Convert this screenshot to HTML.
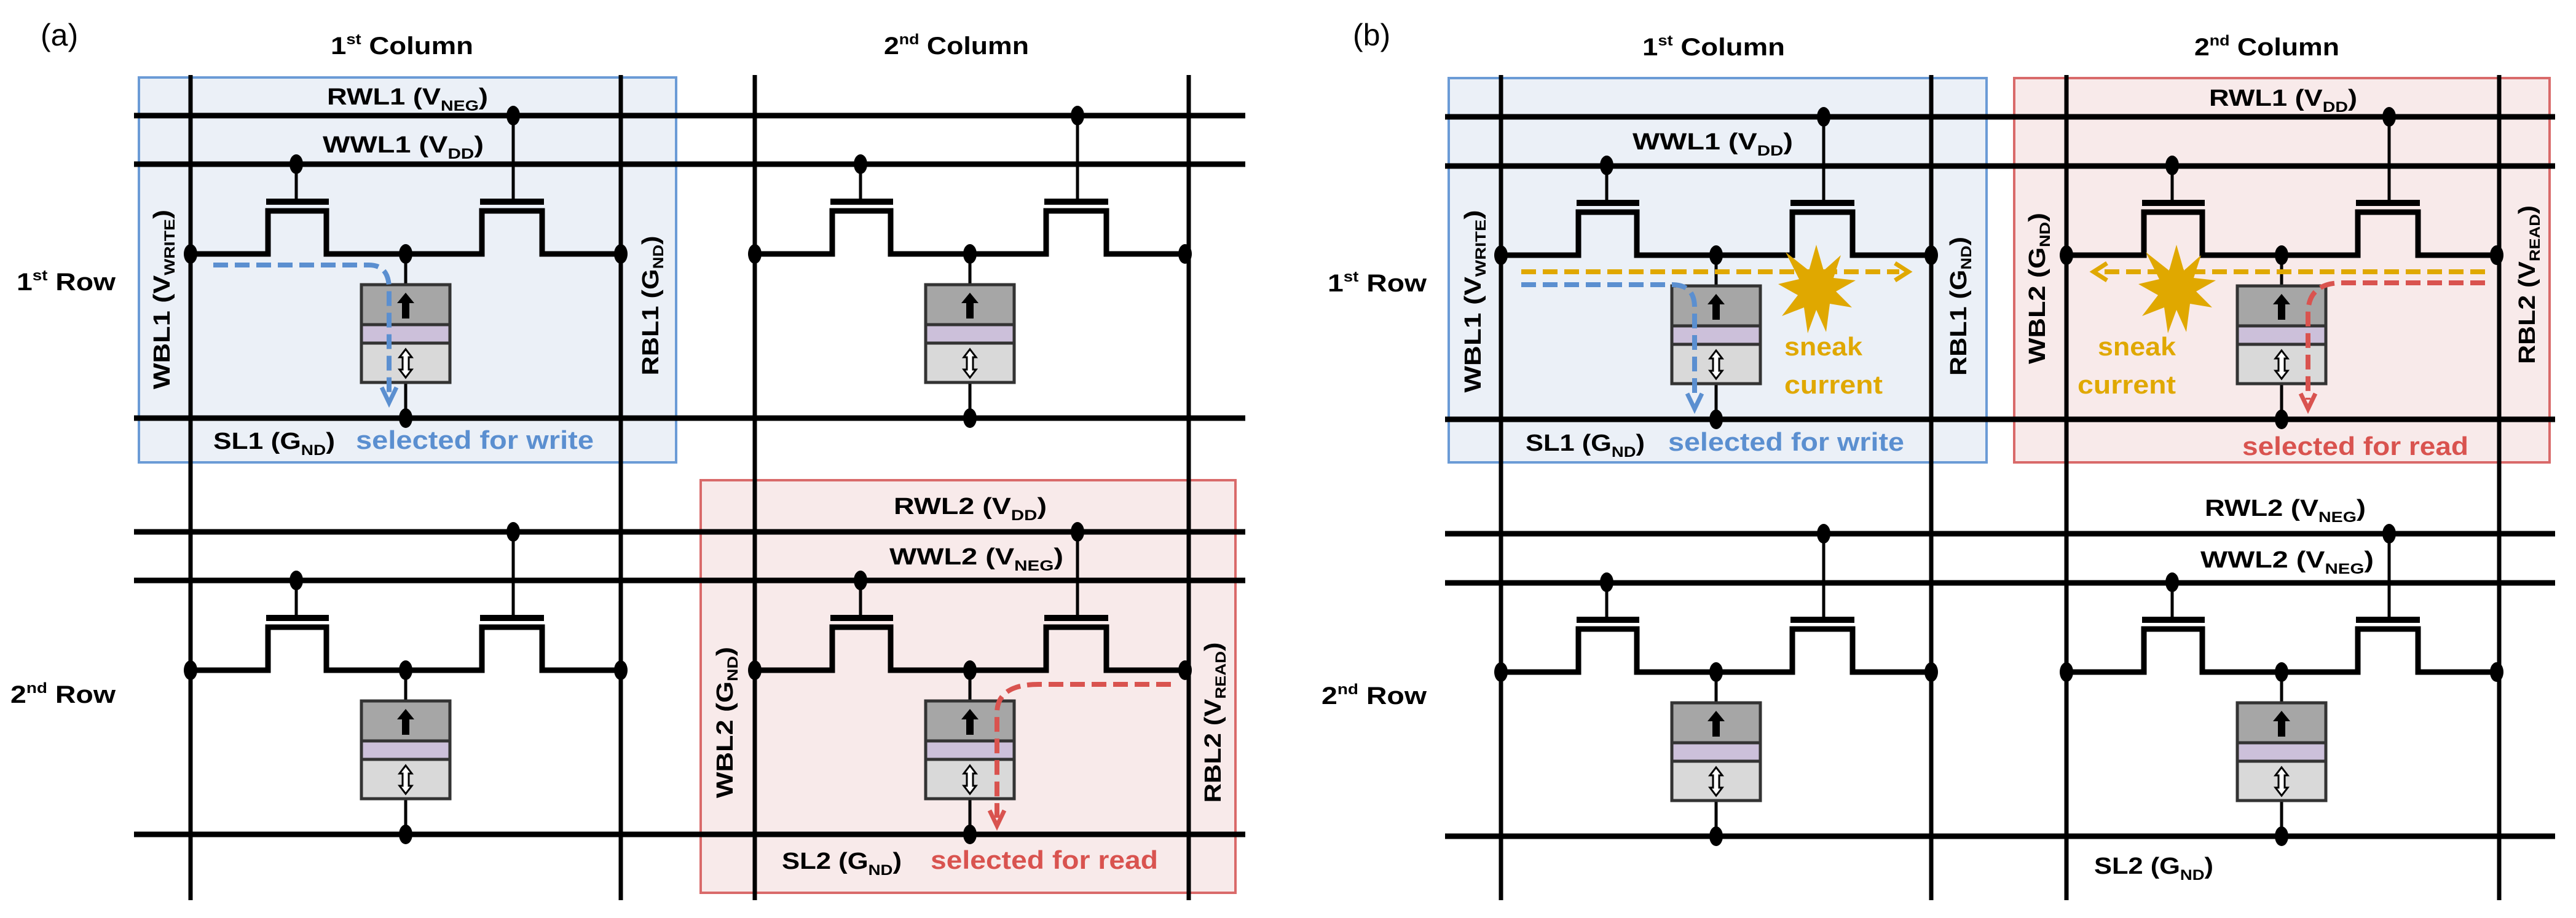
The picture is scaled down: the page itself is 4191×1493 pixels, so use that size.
<!DOCTYPE html>
<html><head><meta charset="utf-8"><style>
html,body{margin:0;padding:0;background:#fff;}
svg{display:block;}
text{font-family:"Liberation Sans",sans-serif;}
</style></head><body>
<svg width="4191" height="1493" viewBox="0 0 4191 1493" xmlns="http://www.w3.org/2000/svg">
<defs>
<g id="cell">
  <line x1="172" y1="79" x2="172" y2="141" stroke="#000" stroke-width="5"/>
  <line x1="525" y1="0" x2="525" y2="141" stroke="#000" stroke-width="5"/>
  <rect x="123" y="135" width="102" height="10" fill="#000"/>
  <rect x="471" y="135" width="104" height="10" fill="#000"/>
  <path d="M0 225 H126 V155 H221 V225 H474 V155 H572 V225 H700" fill="none" stroke="#000" stroke-width="9"/>
  <line x1="350" y1="225" x2="350" y2="275" stroke="#000" stroke-width="5"/>
  <line x1="350" y1="434" x2="350" y2="492" stroke="#000" stroke-width="5"/>
  <rect x="278" y="275" width="144" height="65" fill="#a6a6a6"/>
  <rect x="278" y="340" width="144" height="30" fill="#ccc0da"/>
  <rect x="278" y="370" width="144" height="64" fill="#d9d9d9"/>
  <line x1="278" y1="340" x2="422" y2="340" stroke="#333" stroke-width="5"/>
  <line x1="278" y1="370" x2="422" y2="370" stroke="#333" stroke-width="5"/>
  <rect x="278" y="275" width="144" height="159" fill="none" stroke="#333" stroke-width="5"/>
  <path d="M344 330 V305 H336 L350 288 L364 305 H356 V330 Z" fill="#000"/>
  <path d="M350 380 L360 393 H355 V413 H360 L350 426 L340 413 H345 V393 H340 Z" fill="#fff" stroke="#000" stroke-width="3"/>
  <ellipse cx="0" cy="225" rx="11" ry="16" fill="#000"/>
  <ellipse cx="350" cy="225" rx="11" ry="16" fill="#000"/>
  <ellipse cx="700" cy="225" rx="11" ry="16" fill="#000"/>
  <ellipse cx="172" cy="79" rx="11" ry="16" fill="#000"/>
  <ellipse cx="525" cy="0" rx="11" ry="16" fill="#000"/>
  <ellipse cx="350" cy="492" rx="11" ry="16" fill="#000"/>
</g>
<polygon id="star" fill="#e0a800" points="0,-72 12,-30 40,-55 28,-18 64,-14 32,4 58,30 22,24 16,70 0,34 -14,72 -20,30 -56,44 -30,10 -62,-8 -28,-16 -50,-60 -12,-30"/>
</defs>

<rect x="226" y="126" width="874" height="626" fill="#ebf0f7" stroke="#6b9bd6" stroke-width="4"/>
<rect x="1140" y="781" width="870" height="671" fill="#f8eaea" stroke="#d96a6a" stroke-width="4"/>
<rect x="2357" y="127" width="875" height="625" fill="#ebf0f7" stroke="#6b9bd6" stroke-width="4"/>
<rect x="3277" y="127" width="871" height="625" fill="#f8eaea" stroke="#d96a6a" stroke-width="4"/>

<g stroke="#000" stroke-width="7">
  <line x1="310" y1="122" x2="310" y2="1464"/>
  <line x1="1010" y1="122" x2="1010" y2="1464"/>
  <line x1="1228" y1="122" x2="1228" y2="1464"/>
  <line x1="1934" y1="122" x2="1934" y2="1464"/>
  <line x1="2442" y1="122" x2="2442" y2="1464"/>
  <line x1="3142" y1="122" x2="3142" y2="1464"/>
  <line x1="3362" y1="122" x2="3362" y2="1464"/>
  <line x1="4066" y1="122" x2="4066" y2="1464"/>
</g>
<g stroke="#000" stroke-width="9">
  <line x1="218" y1="188" x2="2026" y2="188"/>
  <line x1="218" y1="267" x2="2026" y2="267"/>
  <line x1="218" y1="680" x2="2026" y2="680"/>
  <line x1="218" y1="865" x2="2026" y2="865"/>
  <line x1="218" y1="944" x2="2026" y2="944"/>
  <line x1="218" y1="1357" x2="2026" y2="1357"/>
  <line x1="2351" y1="190" x2="4157" y2="190"/>
  <line x1="2351" y1="270" x2="4157" y2="270"/>
  <line x1="2351" y1="682" x2="4157" y2="682"/>
  <line x1="2351" y1="868" x2="4157" y2="868"/>
  <line x1="2351" y1="948" x2="4157" y2="948"/>
  <line x1="2351" y1="1360" x2="4157" y2="1360"/>
</g>
<use href="#cell" x="310" y="188"/>
<use href="#cell" x="1228" y="188"/>
<use href="#cell" x="310" y="865"/>
<use href="#cell" x="1228" y="865"/>
<use href="#cell" x="2442" y="190"/>
<use href="#cell" x="3362" y="190"/>
<use href="#cell" x="2442" y="868"/>
<use href="#cell" x="3362" y="868"/>

<g fill="none" stroke-width="8" stroke-dasharray="24 11">
  <path d="M347 431 H600 Q633 431 633 470 V640" stroke="#5b8fd0"/>
  <path d="M1905 1113 H1690 Q1622 1113 1622 1160 V1330" stroke="#d9534f"/>
  <path d="M2475 463 H2720 Q2757 463 2757 500 V650" stroke="#5b8fd0"/>
  <path d="M4043 460 H3810 Q3755 460 3755 510 V650" stroke="#d9534f"/>
  <path d="M2475 442 H3090" stroke="#e0a800"/>
  <path d="M4043 442 H3420" stroke="#e0a800"/>
</g>
<g fill="none" stroke-width="7">
  <path d="M621 630 L633 655 L645 630" stroke="#5b8fd0"/>
  <path d="M1610 1318 L1622 1343 L1634 1318" stroke="#d9534f"/>
  <path d="M2745 640 L2757 665 L2769 640" stroke="#5b8fd0"/>
  <path d="M3743 640 L3755 665 L3767 640" stroke="#d9534f"/>
  <path d="M3083 428 L3105 442 L3083 456" stroke="#e0a800"/>
  <path d="M3428 428 L3406 442 L3428 456" stroke="#e0a800"/>
</g>
<use href="#star" x="2955" y="470"/>
<use href="#star" x="3541" y="470"/>

<g font-size="50" fill="#000">
  <text x="66" y="74">(a)</text>
  <text x="2201" y="74">(b)</text>
</g>
<g font-size="40" font-weight="bold" fill="#000">
  <text x="538" y="88" textLength="232" lengthAdjust="spacingAndGlyphs">1<tspan font-size="24" dy="-16">st</tspan><tspan dy="16"> Column</tspan></text>
  <text x="1438" y="88" textLength="236" lengthAdjust="spacingAndGlyphs">2<tspan font-size="24" dy="-16">nd</tspan><tspan dy="16"> Column</tspan></text>
  <text x="2672" y="90" textLength="232" lengthAdjust="spacingAndGlyphs">1<tspan font-size="24" dy="-16">st</tspan><tspan dy="16"> Column</tspan></text>
  <text x="3570" y="90" textLength="236" lengthAdjust="spacingAndGlyphs">2<tspan font-size="24" dy="-16">nd</tspan><tspan dy="16"> Column</tspan></text>
  <text x="27" y="472" textLength="161" lengthAdjust="spacingAndGlyphs">1<tspan font-size="24" dy="-16">st</tspan><tspan dy="16"> Row</tspan></text>
  <text x="17" y="1143" textLength="171" lengthAdjust="spacingAndGlyphs">2<tspan font-size="24" dy="-16">nd</tspan><tspan dy="16"> Row</tspan></text>
  <text x="2160" y="474" textLength="161" lengthAdjust="spacingAndGlyphs">1<tspan font-size="24" dy="-16">st</tspan><tspan dy="16"> Row</tspan></text>
  <text x="2150" y="1145" textLength="171" lengthAdjust="spacingAndGlyphs">2<tspan font-size="24" dy="-16">nd</tspan><tspan dy="16"> Row</tspan></text>
</g>

<g font-size="38" font-weight="bold" fill="#000">
  <text x="532" y="170" textLength="262" lengthAdjust="spacingAndGlyphs">RWL1 (V<tspan font-size="24" dy="10">NEG</tspan><tspan dy="-10">)</tspan></text>
  <text x="525" y="248" textLength="262" lengthAdjust="spacingAndGlyphs">WWL1 (V<tspan font-size="24" dy="10">DD</tspan><tspan dy="-10">)</tspan></text>
  <text x="347" y="730" textLength="198" lengthAdjust="spacingAndGlyphs">SL1 (G<tspan font-size="24" dy="10">ND</tspan><tspan dy="-10">)</tspan></text>
  <text x="1454" y="836" textLength="249" lengthAdjust="spacingAndGlyphs">RWL2 (V<tspan font-size="24" dy="10">DD</tspan><tspan dy="-10">)</tspan></text>
  <text x="1447" y="918" textLength="283" lengthAdjust="spacingAndGlyphs">WWL2 (V<tspan font-size="24" dy="10">NEG</tspan><tspan dy="-10">)</tspan></text>
  <text x="1272" y="1413" textLength="195" lengthAdjust="spacingAndGlyphs">SL2 (G<tspan font-size="24" dy="10">ND</tspan><tspan dy="-10">)</tspan></text>
  <text x="3594" y="172" textLength="241" lengthAdjust="spacingAndGlyphs">RWL1 (V<tspan font-size="24" dy="10">DD</tspan><tspan dy="-10">)</tspan></text>
  <text x="2656" y="243" textLength="261" lengthAdjust="spacingAndGlyphs">WWL1 (V<tspan font-size="24" dy="10">DD</tspan><tspan dy="-10">)</tspan></text>
  <text x="2482" y="733" textLength="194" lengthAdjust="spacingAndGlyphs">SL1 (G<tspan font-size="24" dy="10">ND</tspan><tspan dy="-10">)</tspan></text>
  <text x="3587" y="839" textLength="262" lengthAdjust="spacingAndGlyphs">RWL2 (V<tspan font-size="24" dy="10">NEG</tspan><tspan dy="-10">)</tspan></text>
  <text x="3580" y="923" textLength="282" lengthAdjust="spacingAndGlyphs">WWL2 (V<tspan font-size="24" dy="10">NEG</tspan><tspan dy="-10">)</tspan></text>
  <text x="3407" y="1421" textLength="194" lengthAdjust="spacingAndGlyphs">SL2 (G<tspan font-size="24" dy="10">ND</tspan><tspan dy="-10">)</tspan></text>
</g>
<g font-size="42" font-weight="bold">
  <text x="579" y="730" fill="#5b8fd0" textLength="387" lengthAdjust="spacingAndGlyphs">selected for write</text>
  <text x="1514" y="1413" fill="#d9534f" textLength="370" lengthAdjust="spacingAndGlyphs">selected for read</text>
  <text x="2714" y="733" fill="#5b8fd0" textLength="384" lengthAdjust="spacingAndGlyphs">selected for write</text>
  <text x="3648" y="740" fill="#d9534f" textLength="368" lengthAdjust="spacingAndGlyphs">selected for read</text>
  <text x="2903" y="578" fill="#e0a800" textLength="127" lengthAdjust="spacingAndGlyphs">sneak</text>
  <text x="2903" y="640" fill="#e0a800" textLength="160" lengthAdjust="spacingAndGlyphs">current</text>
  <text x="3413" y="578" fill="#e0a800" textLength="127" lengthAdjust="spacingAndGlyphs">sneak</text>
  <text x="3380" y="640" fill="#e0a800" textLength="160" lengthAdjust="spacingAndGlyphs">current</text>
</g>

<g font-size="38" font-weight="bold" fill="#000" text-anchor="middle">
  <text transform="translate(276,487) rotate(-90)" textLength="292" lengthAdjust="spacingAndGlyphs">WBL1 (V<tspan font-size="24" dy="8">WRITE</tspan><tspan dy="-8">)</tspan></text>
  <text transform="translate(1071,497) rotate(-90)" textLength="227" lengthAdjust="spacingAndGlyphs">RBL1 (G<tspan font-size="24" dy="8">ND</tspan><tspan dy="-8">)</tspan></text>
  <text transform="translate(1192,1175) rotate(-90)" textLength="246" lengthAdjust="spacingAndGlyphs">WBL2 (G<tspan font-size="24" dy="8">ND</tspan><tspan dy="-8">)</tspan></text>
  <text transform="translate(1986,1175) rotate(-90)" textLength="261" lengthAdjust="spacingAndGlyphs">RBL2 (V<tspan font-size="24" dy="8">READ</tspan><tspan dy="-8">)</tspan></text>
  <text transform="translate(2409,490) rotate(-90)" textLength="297" lengthAdjust="spacingAndGlyphs">WBL1 (V<tspan font-size="24" dy="8">WRITE</tspan><tspan dy="-8">)</tspan></text>
  <text transform="translate(3199,498) rotate(-90)" textLength="226" lengthAdjust="spacingAndGlyphs">RBL1 (G<tspan font-size="24" dy="8">ND</tspan><tspan dy="-8">)</tspan></text>
  <text transform="translate(3327,469) rotate(-90)" textLength="246" lengthAdjust="spacingAndGlyphs">WBL2 (G<tspan font-size="24" dy="8">ND</tspan><tspan dy="-8">)</tspan></text>
  <text transform="translate(4124,463) rotate(-90)" textLength="258" lengthAdjust="spacingAndGlyphs">RBL2 (V<tspan font-size="24" dy="8">READ</tspan><tspan dy="-8">)</tspan></text>
</g>
</svg>
</body></html>
